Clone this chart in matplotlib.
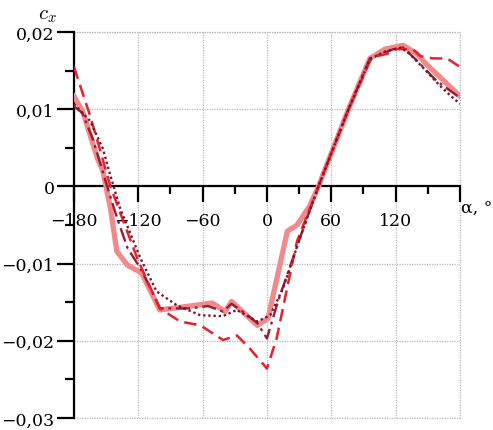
import matplotlib.pyplot as plt
from matplotlib.ticker import MultipleLocator

# ---- data (alpha in degrees, c_x) ----
alpha_solid = [-180, -172, -158, -153, -146, -140, -130, -117, -100, -72, -51, -39, -33, -9, 1,
               19, 28, 40, 48, 60, 76, 96, 110, 127, 140, 149, 165, 180]
cx_solid = [0.0117, 0.0098, 0.0036, 0.0020, -0.0028, -0.0084, -0.0102, -0.0112, -0.0160, -0.0155,
            -0.0151, -0.0162, -0.0149, -0.0180, -0.0171, -0.0058, -0.0050, -0.0025, 0.0, 0.0043,
            0.0100, 0.0166, 0.0178, 0.0183, 0.0172, 0.0158, 0.0137, 0.0117]

alpha_dashdot = [-180, -172, -162, -154, -149, -140, -130, -118, -104, -100, -85, -72, -55, -41, -33,
                 -20, -9, 0, 10, 21, 35, 48, 60, 76, 96, 118, 127, 140, 158, 180]
cx_dashdot = [0.0104, 0.0095, 0.0060, 0.0023, 0.0, -0.0040, -0.0080, -0.0106, -0.0145, -0.0158,
              -0.0158, -0.0158, -0.0155, -0.0162, -0.0152, -0.0165, -0.0177, -0.0197, -0.0150,
              -0.0106, -0.0050, 0.0, 0.0043, 0.0100, 0.0166, 0.0178, 0.0180, 0.0163, 0.0137, 0.0115]

alpha_dashed = [-180, -165, -156, -146, -121, -103, -100, -81, -62, -41, -28, -16, 0, 9, 24, 28,
                48, 60, 76, 96, 103, 112, 121, 136, 143, 155, 168, 180]
cx_dashed = [0.0155, 0.0092, 0.0049, 0.0, -0.0093, -0.0149, -0.0158, -0.0175, -0.0180, -0.0199,
             -0.0193, -0.0210, -0.0236, -0.0197, -0.0097, -0.0071, 0.0, 0.0043, 0.0100, 0.0163,
             0.0169, 0.0172, 0.0178, 0.0178, 0.0169, 0.0166, 0.0166, 0.0155]

alpha_dotted = [-180, -165, -153, -146, -137, -118, -103, -84, -62, -41, -28, -9, 3, 15, 30, 48,
                60, 76, 96, 110, 125, 133, 149, 161, 171, 180]
cx_dotted = [0.0107, 0.0085, 0.0049, 0.0014, -0.0028, -0.0093, -0.0136, -0.0154, -0.0167, -0.0168,
             -0.0160, -0.0175, -0.0167, -0.0132, -0.0070, 0.0, 0.0043, 0.0100, 0.0165, 0.0175,
             0.0180, 0.0172, 0.0149, 0.0131, 0.0118, 0.0107]

x_ticks = [-180, -120, -60, 0, 60, 120, 180]
x_labels = ["\u2212180", "\u2212120", "\u221260", "0", "60", "120", ""]
y_ticks = [-0.03, -0.02, -0.01, 0.0, 0.01, 0.02]
y_labels = ["\u22120,03", "\u22120,02", "\u22120,01", "0", "0,01", "0,02"]

plt.rcParams['font.family'] = ['DejaVu Serif']
plt.rcParams['mathtext.fontset'] = 'cm'

fig = plt.figure(figsize=(4.93, 4.31), dpi=100)
ax = fig.add_axes([0.150, 0.028, 0.783, 0.895])

# ---- curves ----
ax.plot(alpha_solid, cx_solid, color='#f08a8c', lw=3.8, solid_joinstyle='round', zorder=3)
ax.plot(alpha_dashdot, cx_dashdot, color='#9c1a30', lw=1.7, dashes=(6, 2, 1.2, 2), zorder=4)
ax.plot(alpha_dashed, cx_dashed, color='#e8202c', lw=1.8, dashes=(5, 2.6), zorder=4)
ax.plot(alpha_dotted, cx_dotted, color='#7a1530', lw=1.7, dashes=(1, 1.2), zorder=4)

# ---- axes ----
ax.set_xlim(-180, 180)
ax.set_ylim(-0.03, 0.02)
ax.spines['bottom'].set_position(('data', 0))
ax.spines['top'].set_visible(False)
ax.spines['right'].set_visible(False)
ax.spines['left'].set_linewidth(1.6)
ax.spines['bottom'].set_linewidth(1.6)

ax.set_xticks(x_ticks)
ax.set_xticklabels(x_labels)
ax.xaxis.set_minor_locator(MultipleLocator(30))
ax.set_yticks(y_ticks)
ax.set_yticklabels(y_labels)
ax.yaxis.set_minor_locator(MultipleLocator(0.005))

ax.tick_params(axis='x', which='major', direction='out', length=11.5, width=1.6,
               labelsize=12.5, pad=7)
ax.tick_params(axis='x', which='minor', direction='out', length=6, width=1.6)
ax.tick_params(axis='y', which='major', direction='out', length=12, width=1.6,
               labelsize=12.5, pad=2)
ax.tick_params(axis='y', which='minor', direction='out', length=6.5, width=1.6)

ax.grid(True, which='major', color='#b8b8b8', lw=0.9, linestyle=(0, (1, 1)))
ax.set_axisbelow(True)
# grid lines on the frame edges
ax.axhline(0.02, color='#b8b8b8', lw=0.9, linestyle=(0, (1, 1)), clip_on=False, zorder=0)
ax.axhline(-0.03, color='#b8b8b8', lw=0.9, linestyle=(0, (1, 1)), clip_on=False, zorder=0)
ax.axvline(180, color='#b8b8b8', lw=0.9, linestyle=(0, (1, 1)), clip_on=False, zorder=0)

ax.text(181, -0.0028, "\u03b1, \u00b0", fontsize=12.5, ha='left', va='center')
fig.text(0.078, 0.963, r'$c_x$', fontsize=15, ha='left', va='center')

plt.savefig("out.png", dpi=100)
